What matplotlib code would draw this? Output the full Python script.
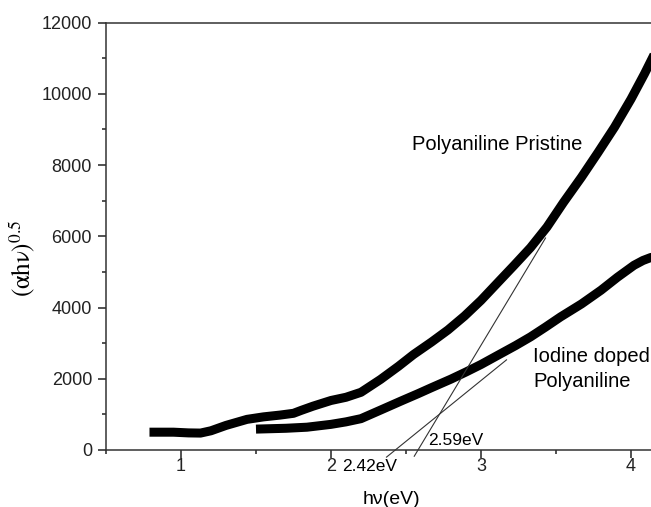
"""Tauc plot: (alpha h nu)^0.5 vs photon energy for pristine and iodine-doped polyaniline."""
import matplotlib

matplotlib.use("Agg")
import matplotlib.pyplot as plt
from matplotlib.ticker import MultipleLocator

plt.rcParams["font.family"] = ["Liberation Sans", "DejaVu Sans"]
plt.rcParams["mathtext.fontset"] = "stix"

PRISTINE_HV = [0.82, 0.95, 1.05, 1.13, 1.20, 1.30, 1.44, 1.55, 1.66, 1.75, 1.80, 1.88,
               2.00, 2.10, 2.20, 2.33, 2.45, 2.55, 2.67, 2.78, 2.89, 3.00, 3.13, 3.22,
               3.33, 3.44, 3.55, 3.67, 3.78, 3.89, 4.00, 4.09, 4.16]
PRISTINE_VAL = [500, 500, 480, 475, 540, 690, 860, 930, 980, 1030, 1110, 1230,
                1390, 1480, 1620, 1980, 2350, 2680, 3030, 3370, 3760, 4200, 4780, 5180,
                5680, 6260, 6950, 7660, 8350, 9060, 9850, 10560, 11150]

DOPED_HV = [1.53, 1.70, 1.84, 2.00, 2.10, 2.20, 2.33, 2.47, 2.58, 2.67, 2.80, 2.90,
            3.00, 3.13, 3.23, 3.33, 3.43, 3.53, 3.67, 3.80, 3.91, 4.02, 4.08, 4.13, 4.17]
DOPED_VAL = [590, 610, 640, 720, 790, 880, 1120, 1380, 1580, 1750, 1990, 2190,
             2400, 2700, 2930, 3175, 3450, 3735, 4100, 4485, 4850, 5185, 5320, 5400, 5440]

# tangent (extrapolation) lines: (hv, value) end points
TANGENT_PRISTINE_HV = [2.555, 3.43]
TANGENT_PRISTINE_VAL = [-175, 5950]
TANGENT_DOPED_HV = [2.37, 3.17]
TANGENT_DOPED_VAL = [-200, 2530]

X_TICKS = [1, 2, 3, 4]
Y_TICKS = [0, 2000, 4000, 6000, 8000, 10000, 12000]

W, H = 651, 507
fig = plt.figure(figsize=(W / 100, H / 100), dpi=100)
ax = fig.add_axes([106 / W, (H - 450) / H, 570 / W, 427.5 / H])

ax.plot(PRISTINE_HV, PRISTINE_VAL, color="black", lw=6.5, solid_joinstyle="round")
ax.plot(DOPED_HV, DOPED_VAL, color="black", lw=6.5, solid_joinstyle="round")
ax.plot(TANGENT_PRISTINE_HV, TANGENT_PRISTINE_VAL, color="#333333", lw=0.8, clip_on=False)
ax.plot(TANGENT_DOPED_HV, TANGENT_DOPED_VAL, color="#333333", lw=0.8, clip_on=False)

ax.set_xlim(0.5, 4.3)
ax.set_ylim(0, 12000)
ax.set_xticks(X_TICKS)
ax.set_yticks(Y_TICKS)
ax.xaxis.set_minor_locator(MultipleLocator(0.5))
ax.yaxis.set_minor_locator(MultipleLocator(1000))
ax.tick_params(which="both", direction="out", width=1.1, colors="#222222", labelsize=13)
ax.tick_params(which="major", length=5.5)
ax.tick_params(which="minor", length=3)
ax.tick_params(axis="x", pad=0.5)
ax.tick_params(axis="y", pad=4.5)
for s in ax.spines.values():
    s.set_linewidth(1.1)
    s.set_color("#333333")

ax.text(2.538, 8421, "Polyaniline Pristine", fontsize=14.5, va="baseline")
ax.text(3.347, 2479, "Iodine doped", fontsize=14.5, va="baseline")
ax.text(3.347, 1777, "Polyaniline", fontsize=14.5, va="baseline")
ax.text(2.647, 140, "2.59eV", fontsize=12.5, va="baseline")
ax.text(2.071, -581, "2.42eV", fontsize=12.5, va="baseline")

fig.text(391 / W, (H - 504) / H, "h\u03bd(eV)", fontsize=14, ha="center", va="baseline")
fig.text(22 / W, (H - 258) / H, r"$\mathrm{(\alpha h\nu)}^{0.5}$", fontsize=18,
         rotation=90, ha="center", va="center")

fig.savefig("out.png", dpi=100)
